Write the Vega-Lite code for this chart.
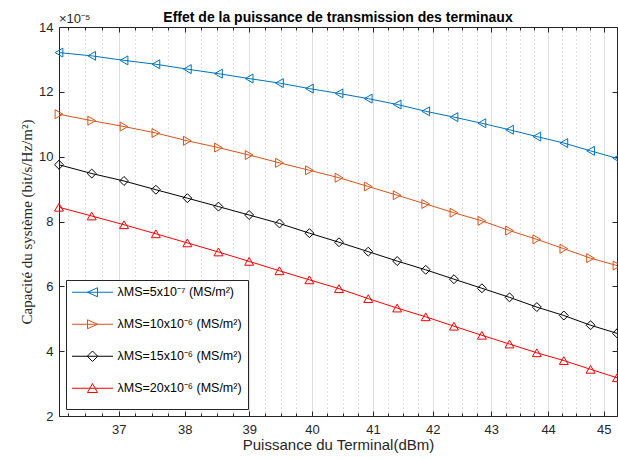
{
  "$schema": "https://vega.github.io/schema/vega-lite/v6.json",
  "width": 558,
  "height": 389,
  "autosize": {"type": "none"},
  "padding": {"left": 59, "top": 27, "right": 1, "bottom": 43},
  "background": "white",
  "title": {
    "text": "Effet de la puissance de transmission des terminaux",
    "font": "Liberation Sans",
    "fontSize": 14,
    "fontWeight": "bold",
    "color": "#000000",
    "anchor": "middle",
    "offset": -12
  },
  "config": {"view": {"stroke": null}},
  "data": {
    "values": [
      {"x": 36.12, "lambda": "5x10⁻⁷", "y": 13.21},
      {"x": 36.60, "lambda": "5x10⁻⁷", "y": 13.11},
      {"x": 37.08, "lambda": "5x10⁻⁷", "y": 12.97},
      {"x": 37.56, "lambda": "5x10⁻⁷", "y": 12.85},
      {"x": 38.04, "lambda": "5x10⁻⁷", "y": 12.70},
      {"x": 38.52, "lambda": "5x10⁻⁷", "y": 12.56},
      {"x": 39.00, "lambda": "5x10⁻⁷", "y": 12.41},
      {"x": 39.48, "lambda": "5x10⁻⁷", "y": 12.27},
      {"x": 39.96, "lambda": "5x10⁻⁷", "y": 12.10},
      {"x": 40.44, "lambda": "5x10⁻⁷", "y": 11.95},
      {"x": 40.92, "lambda": "5x10⁻⁷", "y": 11.79},
      {"x": 41.40, "lambda": "5x10⁻⁷", "y": 11.61},
      {"x": 41.88, "lambda": "5x10⁻⁷", "y": 11.40},
      {"x": 42.36, "lambda": "5x10⁻⁷", "y": 11.22},
      {"x": 42.84, "lambda": "5x10⁻⁷", "y": 11.03},
      {"x": 43.32, "lambda": "5x10⁻⁷", "y": 10.83},
      {"x": 43.80, "lambda": "5x10⁻⁷", "y": 10.62},
      {"x": 44.28, "lambda": "5x10⁻⁷", "y": 10.42},
      {"x": 44.76, "lambda": "5x10⁻⁷", "y": 10.18},
      {"x": 45.24, "lambda": "5x10⁻⁷", "y": 9.95},
      {"x": 36.12, "lambda": "10x10⁻⁶", "y": 11.31},
      {"x": 36.60, "lambda": "10x10⁻⁶", "y": 11.11},
      {"x": 37.08, "lambda": "10x10⁻⁶", "y": 10.93},
      {"x": 37.56, "lambda": "10x10⁻⁶", "y": 10.73},
      {"x": 38.04, "lambda": "10x10⁻⁶", "y": 10.49},
      {"x": 38.52, "lambda": "10x10⁻⁶", "y": 10.28},
      {"x": 39.00, "lambda": "10x10⁻⁶", "y": 10.05},
      {"x": 39.48, "lambda": "10x10⁻⁶", "y": 9.81},
      {"x": 39.96, "lambda": "10x10⁻⁶", "y": 9.58},
      {"x": 40.44, "lambda": "10x10⁻⁶", "y": 9.35},
      {"x": 40.92, "lambda": "10x10⁻⁶", "y": 9.08},
      {"x": 41.40, "lambda": "10x10⁻⁶", "y": 8.81},
      {"x": 41.88, "lambda": "10x10⁻⁶", "y": 8.54},
      {"x": 42.36, "lambda": "10x10⁻⁶", "y": 8.27},
      {"x": 42.84, "lambda": "10x10⁻⁶", "y": 8.02},
      {"x": 43.32, "lambda": "10x10⁻⁶", "y": 7.72},
      {"x": 43.80, "lambda": "10x10⁻⁶", "y": 7.45},
      {"x": 44.28, "lambda": "10x10⁻⁶", "y": 7.16},
      {"x": 44.76, "lambda": "10x10⁻⁶", "y": 6.87},
      {"x": 45.24, "lambda": "10x10⁻⁶", "y": 6.64},
      {"x": 36.12, "lambda": "15x10⁻⁶", "y": 9.75},
      {"x": 36.60, "lambda": "15x10⁻⁶", "y": 9.48},
      {"x": 37.08, "lambda": "15x10⁻⁶", "y": 9.25},
      {"x": 37.56, "lambda": "15x10⁻⁶", "y": 8.98},
      {"x": 38.04, "lambda": "15x10⁻⁶", "y": 8.72},
      {"x": 38.52, "lambda": "15x10⁻⁶", "y": 8.46},
      {"x": 39.00, "lambda": "15x10⁻⁶", "y": 8.20},
      {"x": 39.48, "lambda": "15x10⁻⁶", "y": 7.94},
      {"x": 39.96, "lambda": "15x10⁻⁶", "y": 7.64},
      {"x": 40.44, "lambda": "15x10⁻⁶", "y": 7.36},
      {"x": 40.92, "lambda": "15x10⁻⁶", "y": 7.07},
      {"x": 41.40, "lambda": "15x10⁻⁶", "y": 6.78},
      {"x": 41.88, "lambda": "15x10⁻⁶", "y": 6.51},
      {"x": 42.36, "lambda": "15x10⁻⁶", "y": 6.22},
      {"x": 42.84, "lambda": "15x10⁻⁶", "y": 5.94},
      {"x": 43.32, "lambda": "15x10⁻⁶", "y": 5.66},
      {"x": 43.80, "lambda": "15x10⁻⁶", "y": 5.36},
      {"x": 44.28, "lambda": "15x10⁻⁶", "y": 5.10},
      {"x": 44.76, "lambda": "15x10⁻⁶", "y": 4.80},
      {"x": 45.24, "lambda": "15x10⁻⁶", "y": 4.55},
      {"x": 36.12, "lambda": "20x10⁻⁶", "y": 8.44},
      {"x": 36.60, "lambda": "20x10⁻⁶", "y": 8.17},
      {"x": 37.08, "lambda": "20x10⁻⁶", "y": 7.90},
      {"x": 37.56, "lambda": "20x10⁻⁶", "y": 7.62},
      {"x": 38.04, "lambda": "20x10⁻⁶", "y": 7.34},
      {"x": 38.52, "lambda": "20x10⁻⁶", "y": 7.06},
      {"x": 39.00, "lambda": "20x10⁻⁶", "y": 6.77},
      {"x": 39.48, "lambda": "20x10⁻⁶", "y": 6.48},
      {"x": 39.96, "lambda": "20x10⁻⁶", "y": 6.20},
      {"x": 40.44, "lambda": "20x10⁻⁶", "y": 5.93},
      {"x": 40.92, "lambda": "20x10⁻⁶", "y": 5.62},
      {"x": 41.40, "lambda": "20x10⁻⁶", "y": 5.33},
      {"x": 41.88, "lambda": "20x10⁻⁶", "y": 5.06},
      {"x": 42.36, "lambda": "20x10⁻⁶", "y": 4.77},
      {"x": 42.84, "lambda": "20x10⁻⁶", "y": 4.49},
      {"x": 43.32, "lambda": "20x10⁻⁶", "y": 4.22},
      {"x": 43.80, "lambda": "20x10⁻⁶", "y": 3.95},
      {"x": 44.28, "lambda": "20x10⁻⁶", "y": 3.71},
      {"x": 44.76, "lambda": "20x10⁻⁶", "y": 3.44},
      {"x": 45.24, "lambda": "20x10⁻⁶", "y": 3.18}
    ]
  },
  "layer": [
    {
      "mark": {"type": "line", "strokeWidth": 1},
      "encoding": {
        "x": {
          "field": "x",
          "type": "quantitative",
          "scale": {"type": "log", "domain": [36.12, 45.24], "nice": false, "zero": false},
          "axis": {
            "orient": "bottom",
            "values": [36.25, 36.5, 36.75, 37, 37.25, 37.5, 37.75, 38, 38.25, 38.5, 38.75, 39, 39.25, 39.5, 39.75, 40, 40.25, 40.5, 40.75, 41, 41.25, 41.5, 41.75, 42, 42.25, 42.5, 42.75, 43, 43.25, 43.5, 43.75, 44, 44.25, 44.5, 44.75, 45],
            "title": "Puissance du Terminal(dBm)",
            "titleFont": "Liberation Sans",
            "titleFontSize": 15,
            "titleFontWeight": "normal",
            "titleColor": "#262626",
            "titlePadding": -1,
            "labelExpr": "datum.value % 1 == 0 ? format(datum.value, 'd') : ''",
            "labelFont": "Liberation Sans",
            "labelFontSize": 13,
            "labelColor": "#262626",
            "labelPadding": 12,
            "labelOverlap": false,
            "labelFlush": false,
            "tickSize": {"condition": {"test": "datum.value % 1 == 0", "value": -5}, "value": -3},
            "tickColor": "#262626",
            "domainColor": "#262626",
            "grid": true,
            "gridColor": {"condition": {"test": "datum.value % 1 == 0", "value": "#dedede"}, "value": "#c4c4c4"},
            "gridDash": {"condition": {"test": "datum.value % 1 == 0", "value": []}, "value": [1, 3]},
            "gridWidth": 1
          }
        },
        "y": {
          "field": "y",
          "type": "quantitative",
          "scale": {"domain": [2, 14], "nice": false, "zero": false},
          "axis": {
            "orient": "left",
            "values": [2, 4, 6, 8, 10, 12, 14],
            "title": "Capacité du système (bit/s/Hz/m²)",
            "titleFont": "Liberation Serif",
            "titleFontSize": 15,
            "titleFontWeight": "normal",
            "titleColor": "#262626",
            "titlePadding": 4,
            "labelFont": "Liberation Sans",
            "labelFontSize": 13,
            "labelColor": "#262626",
            "labelPadding": 11,
            "tickSize": -5,
            "tickColor": "#262626",
            "domainColor": "#262626",
            "grid": false
          }
        },
        "color": {
          "field": "lambda",
          "type": "nominal",
          "scale": {
            "domain": ["5x10⁻⁷", "10x10⁻⁶", "15x10⁻⁶", "20x10⁻⁶"],
            "range": ["#0072BD", "#D95319", "#000000", "#FF0000"]
          },
          "legend": {
            "orient": "bottom-left",
            "offset": 7,
            "title": null,
            "padding": 6,
            "rowPadding": 3,
            "fillColor": "white",
            "strokeColor": "#262626",
            "symbolSize": 100,
            "labelOffset": 33,
            "labelFont": "Liberation Sans",
            "labelFontSize": 12.5,
            "labelColor": "#000000",
            "labelExpr": "'λMS=' + datum.label + ' (MS/m²)'",
            "encode": {
              "symbols": {
                "update": {
                  "shape": {"signal": "datum.index == 0 ? 'M0,-2.4M0,2.4M-1.25,0L6.95,0M1.85,0L3.85,-0.9L3.85,0.9Z' : datum.index == 1 ? 'M0,-2.4M0,2.4M-1.25,0L6.95,0M3.85,0L1.85,-0.9L1.85,0.9Z' : datum.index == 2 ? 'M0,-2.4M0,2.4M-1.25,0L6.95,0M2.85,-1.05L3.9,0L2.85,1.05L1.8,0Z' : 'M0,-2.4M0,2.4M-1.25,0L6.95,0M2.85,-0.95L3.85,0.85L1.85,0.85Z'"},
                  "size": {"value": 100},
                  "fill": {"value": "transparent"},
                  "strokeWidth": {"value": 1},
                  "opacity": {"value": 1}
                }
              }
            }
          }
        }
      }
    },
    {
      "transform": [{"filter": {"field": "lambda", "equal": "5x10⁻⁷"}}],
      "mark": {"type": "point", "shape": "triangle-left", "filled": false, "size": 80, "strokeWidth": 1, "opacity": 1, "color": "#0072BD"},
      "encoding": {
        "x": {
          "field": "x",
          "type": "quantitative",
          "axis": {
            "orient": "top",
            "values": [36.25, 36.5, 36.75, 37, 37.25, 37.5, 37.75, 38, 38.25, 38.5, 38.75, 39, 39.25, 39.5, 39.75, 40, 40.25, 40.5, 40.75, 41, 41.25, 41.5, 41.75, 42, 42.25, 42.5, 42.75, 43, 43.25, 43.5, 43.75, 44, 44.25, 44.5, 44.75, 45],
            "title": null,
            "labels": false,
            "grid": false,
            "tickSize": {"condition": {"test": "datum.value % 1 == 0", "value": -5}, "value": -3},
            "tickColor": "#262626",
            "domainColor": "#262626"
          }
        },
        "y": {
          "field": "y",
          "type": "quantitative",
          "axis": {
            "orient": "right",
            "values": [2, 4, 6, 8, 10, 12, 14],
            "title": null,
            "labels": false,
            "grid": false,
            "tickSize": -5,
            "tickColor": "#262626",
            "domainColor": "#262626"
          }
        }
      }
    },
    {
      "transform": [{"filter": {"field": "lambda", "equal": "10x10⁻⁶"}}],
      "mark": {"type": "point", "shape": "triangle-right", "filled": false, "size": 80, "strokeWidth": 1, "opacity": 1, "color": "#D95319"},
      "encoding": {
        "x": {"field": "x", "type": "quantitative", "axis": null},
        "y": {"field": "y", "type": "quantitative", "axis": null}
      }
    },
    {
      "transform": [{"filter": {"field": "lambda", "equal": "15x10⁻⁶"}}],
      "mark": {"type": "point", "shape": "diamond", "filled": false, "size": 80, "strokeWidth": 1, "opacity": 1, "color": "#000000"},
      "encoding": {
        "x": {"field": "x", "type": "quantitative", "axis": null},
        "y": {"field": "y", "type": "quantitative", "axis": null}
      }
    },
    {
      "transform": [{"filter": {"field": "lambda", "equal": "20x10⁻⁶"}}],
      "mark": {"type": "point", "shape": "triangle-up", "filled": false, "size": 80, "strokeWidth": 1, "opacity": 1, "color": "#FF0000"},
      "encoding": {
        "x": {"field": "x", "type": "quantitative", "axis": null},
        "y": {"field": "y", "type": "quantitative", "axis": null}
      }
    },
    {
      "data": {"values": [{"label": "×10⁻⁵"}]},
      "mark": {"type": "text", "align": "left", "baseline": "alphabetic", "dy": -4, "font": "Liberation Sans", "fontSize": 13, "color": "#262626"},
      "encoding": {
        "x": {"datum": 36.12, "type": "quantitative", "axis": null},
        "y": {"datum": 14, "type": "quantitative", "axis": null},
        "text": {"field": "label"}
      }
    }
  ],
  "resolve": {"axis": {"x": "independent", "y": "independent"}}
}
